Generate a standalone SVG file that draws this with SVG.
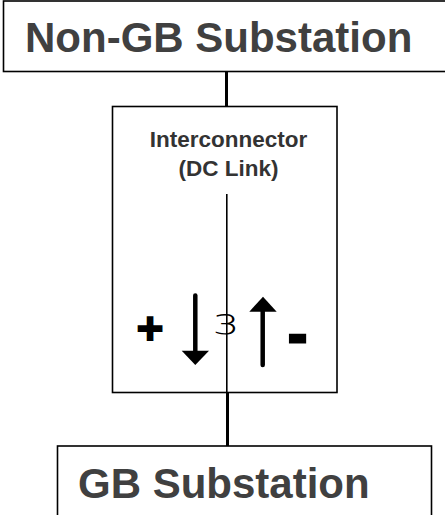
<svg xmlns="http://www.w3.org/2000/svg" width="445" height="515" viewBox="0 0 445 515">
<style>
.box{fill:#fff;stroke:#000;stroke-width:1.6}
.big{font-family:"Liberation Sans",Arial,sans-serif;font-weight:bold;font-size:42px;fill:#404040}
.mid{font-family:"Liberation Sans",Arial,sans-serif;font-weight:bold;font-size:22.5px;fill:#333;text-anchor:middle}
.conn{stroke:#000;stroke-width:3;fill:none}
.sym{font-family:"Liberation Sans",Arial,sans-serif;font-weight:bold;fill:#000;stroke:#000;stroke-width:3;text-anchor:middle}
.shaft{stroke:#000;stroke-width:4.5;stroke-linecap:round}
</style>
<g id="connectors">
<line class="conn" x1="226.5" y1="71" x2="226.5" y2="107"/>
<line class="conn" x1="227.5" y1="392" x2="227.5" y2="446"/>
</g>
<g id="non-gb">
<rect class="box" x="3.5" y="1" width="450" height="70.5"/>
<text class="big" x="25" y="52">Non-GB Substation</text>
</g>
<g id="interconnector">
<rect class="box" x="112.5" y="106.5" width="224.5" height="286"/>
<text class="mid" x="228.5" y="146.5">Interconnector</text>
<text class="mid" x="228.5" y="175.5">(DC Link)</text>
<line x1="226.8" y1="194" x2="226.8" y2="446" stroke="#000" stroke-width="1.6"/>
<text x="150" y="341" font-family="DejaVu Sans,sans-serif" font-size="34" text-anchor="middle" fill="#000">✚</text>
<line class="shaft" x1="195.3" y1="295.5" x2="195.3" y2="352"/>
<path d="M181.7,350.7 L209,350.7 L195.3,365 Z" fill="#000"/>
<text x="225" y="334" font-family="DejaVu Sans,sans-serif" font-weight="200" font-size="36" text-anchor="middle" fill="#000" transform="translate(225 0) scale(1.4 1) translate(-225 0)">ɜ</text>
<line class="shaft" x1="262.7" y1="310" x2="262.7" y2="365"/>
<path d="M249.3,311.7 L276.7,311.7 L263,296.7 Z" fill="#000"/>
<text class="sym" x="297.5" y="353" font-size="56">-</text>
</g>
<g id="gb">
<rect class="box" x="57.5" y="446" width="374" height="80"/>
<text class="big" x="78" y="498">GB Substation</text>
</g>
</svg>
